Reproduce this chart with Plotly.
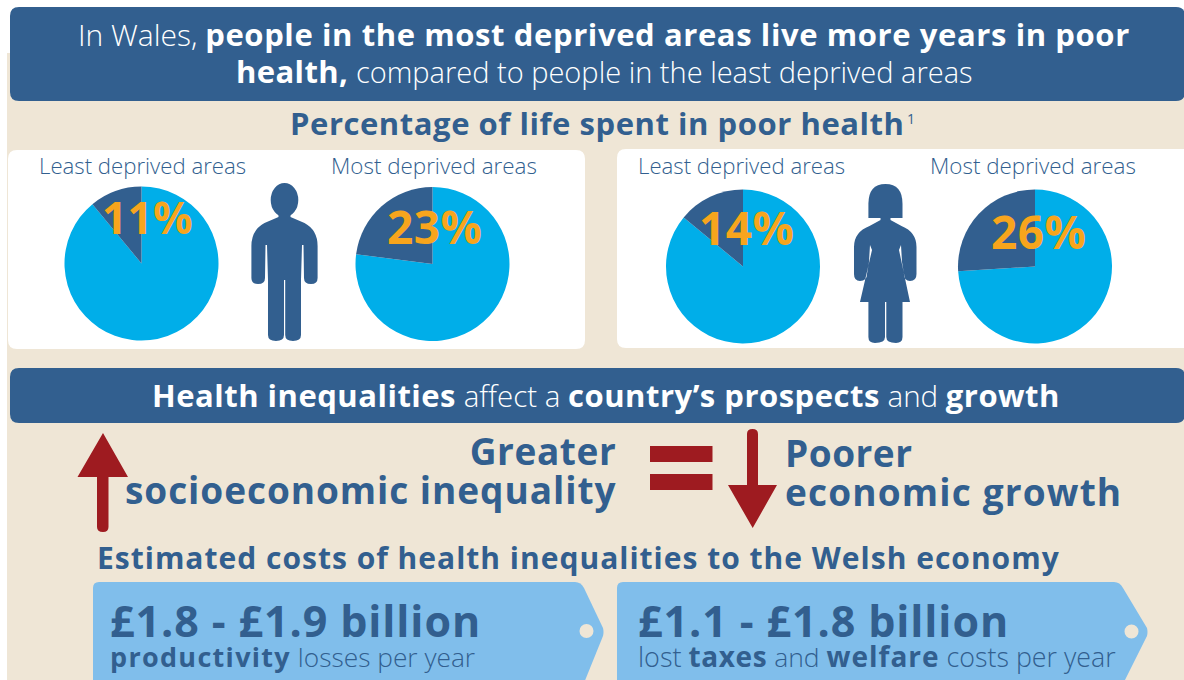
import plotly.graph_objects as go

# ---- data ----
pie_groups = ["Men, least deprived", "Men, most deprived", "Women, least deprived", "Women, most deprived"]
poor_health_pct = [11, 23, 14, 26]
area_labels = ["Least deprived areas", "Most deprived areas", "Least deprived areas", "Most deprived areas"]
cost_ranges = ["£1.8 - £1.9 billion", "£1.1 - £1.8 billion"]

W, H = 1184, 680
NAVY, BEIGE, SKY, ORANGE, RED, TAG = "#325F8F", "#EFE6D6", "#00AEE9", "#F7A51D", "#9E1B20", "#80BEEB"
FONT = "Open Sans"

fx = lambda x: x / W
fy = lambda y: 1 - y / H


def P(x, y):
    return f"{fx(x):.5f},{fy(y):.5f}"


def path(pts):
    """pts: list of ('M'|'L', x, y) or ('Q', cx, cy, x, y)"""
    out = []
    for p in pts:
        if p[0] == "Q":
            out.append(f"Q{P(p[1], p[2])} {P(p[3], p[4])}")
        else:
            out.append(f"{p[0]}{P(p[1], p[2])}")
    return " ".join(out) + " Z"


def shape(d, color, layer="below"):
    return dict(type="path", xref="paper", yref="paper", path=d, fillcolor=color, line_width=0, layer=layer)


def rrect(x0, y0, x1, y1, r):
    return path([("M", x0 + r, y0), ("L", x1 - r, y0), ("Q", x1, y0, x1, y0 + r), ("L", x1, y1 - r),
                 ("Q", x1, y1, x1 - r, y1), ("L", x0 + r, y1), ("Q", x0, y1, x0, y1 - r), ("L", x0, y0 + r),
                 ("Q", x0, y0, x0 + r, y0)])


def circle(cx, cy, rx, ry, color):
    return dict(type="circle", xref="paper", yref="paper", x0=fx(cx - rx), x1=fx(cx + rx),
                y0=fy(cy + ry), y1=fy(cy - ry), fillcolor=color, line_width=0, layer="below")


shapes = [
    shape(path([("M", 7, 53), ("L", W + 2, 53), ("L", W + 2, H + 2), ("L", 7, H + 2)]), BEIGE),
    shape(rrect(10, 7, W + 1, 101, 9), NAVY),
    shape(rrect(8, 150, 585, 349, 9), "#FFFFFF"),
    shape(rrect(617, 149, W + 12, 348, 9), "#FFFFFF"),
    shape(rrect(10, 368, W + 1, 423, 9), NAVY),
]


def tag(x0, xs, xt):
    return path([("M", x0 + 6, 582), ("L", xs - 6, 582), ("Q", xs, 582, xs + 3, 588), ("L", xt - 1, 628),
                 ("Q", xt, 632, xt - 1, 636), ("L", xs + 1, H + 8), ("L", x0, H + 8), ("L", x0, 588),
                 ("Q", x0, 582, x0 + 6, 582)])


shapes += [shape(tag(93, 581, 604), TAG), circle(586.5, 631, 7, 7, BEIGE),
           shape(tag(617, 1120, 1148), TAG), circle(1131.5, 631.5, 7, 7, BEIGE)]

# arrows and equals sign
shapes += [
    shape(path([("M", 103, 433), ("L", 128, 477), ("L", 108.5, 477), ("L", 108.5, 527), ("Q", 108.5, 532, 103, 532),
                ("Q", 97, 532, 97, 527), ("L", 97, 477), ("L", 77.5, 477)]), RED),
    shape(path([("M", 752.7, 528), ("L", 777, 485), ("L", 758, 485), ("L", 758, 434), ("Q", 758, 429, 752.5, 429),
                ("Q", 747, 429, 747, 434), ("L", 747, 485), ("L", 728, 485)]), RED),
    shape(path([("M", 650, 446), ("L", 712.5, 446), ("L", 712.5, 462), ("L", 650, 462)]), RED),
    shape(path([("M", 650, 474), ("L", 712.5, 474), ("L", 712.5, 490), ("L", 650, 490)]), RED),
]

# man pictogram
c = 284.5
shapes += [
    circle(c, 200, 13.8, 17, NAVY),
    shape(path([("M", c - 6, 212), ("L", c + 6, 212), ("L", c + 6, 217), ("L", c + 20, 223), ("Q", 317.6, 230, 317.6, 246),
                ("L", 317.6, 278), ("Q", 317.6, 284, 311, 284), ("Q", 304, 284, 304, 278), ("L", 303.5, 245),
                ("L", 302, 245), ("L", 301, 280), ("L", 301, 335), ("Q", 301, 341, 293, 341), ("Q", 285.2, 341, 285.2, 335),
                ("L", 285.2, 280), ("L", 284, 280), ("L", 284, 335), ("Q", 284, 341, 276, 341), ("Q", 268, 341, 268, 335),
                ("L", 268, 280), ("L", 267, 245), ("L", 265.5, 245), ("L", 265, 278), ("Q", 265, 284, 258, 284),
                ("Q", 251.4, 284, 251.4, 278), ("L", 251.4, 246), ("Q", 251.4, 230, c - 20, 223), ("L", c - 6, 217)]), NAVY),
]

# woman pictogram
c = 885.5
shapes += [
    shape(path([("M", 868.4, 218), ("L", 868.4, 204), ("Q", 868.4, 184, c, 184), ("Q", 902.5, 184, 902.5, 204),
                ("L", 902.5, 218)]), NAVY),
    shape(path([("M", c - 5, 216), ("L", c + 5, 216), ("L", c + 5, 220), ("L", c + 16, 226), ("Q", 916.5, 232, 916.5, 247),
                ("L", 916.5, 274), ("Q", 916.5, 281, 910, 281), ("Q", 904, 281, 904, 274), ("L", 902, 262), ("L", 901, 245),
                ("L", 899, 250), ("L", 910, 302), ("L", 902.5, 302), ("L", 902.5, 337), ("Q", 902.5, 343, 896, 343),
                ("Q", 886.3, 343, 886.3, 337), ("L", 886.3, 302), ("L", 885, 302), ("L", 885, 337), ("Q", 885, 343, 875, 343),
                ("Q", 868.4, 343, 868.4, 337), ("L", 868.4, 302), ("L", 860, 302), ("L", 872, 250), ("L", 870, 245),
                ("L", 869, 262), ("L", 867, 274), ("Q", 867, 281, 860, 281), ("Q", 854, 281, 854, 274), ("L", 854, 247),
                ("Q", 854, 232, c - 16, 226), ("L", c - 5, 220)]), NAVY),
]

fig = go.Figure()
pie_pos = [(141.5, 263.5, 77), (432.5, 264, 77), (743, 266.5, 77), (1035, 266.5, 77)]
for name, v, (cx, cy, r) in zip(pie_groups, poor_health_pct, pie_pos):
    fig.add_trace(go.Pie(
        values=[100 - v, v], labels=["Other", "Poor health"], name=name, sort=False,
        direction="counterclockwise", rotation=0, textinfo="none", hoverinfo="label+percent",
        marker=dict(colors=[SKY, NAVY], line=dict(width=0)), showlegend=False,
        domain=dict(x=[fx(cx - r), fx(cx + r)], y=[fy(cy + r), fy(cy - r)]),
    ))


def L(s, size):
    return f'<span style="font-weight:300;font-size:{size}px">{s}</span>'


def B(s, size, ls=0.0):
    return f'<span style="font-weight:700;font-size:{size}px;letter-spacing:{ls}px">{s}</span>'


annotations = []


def text(x, y, s, size, color=NAVY, anchor="center"):
    annotations.append(dict(x=fx(x), y=fy(y), xref="paper", yref="paper", text=s, showarrow=False,
                            xanchor=anchor, yanchor="middle", align=anchor,
                            font=dict(family=FONT, size=size, color=color)))


W_ = "#FFFFFF"
text(603.5, 34, L("In Wales, ", 30) + B("people in the most deprived areas live more years in poor", 31, 0.6), 31, W_)
text(604, 71, B("health,", 31, 0.4) + L(" compared to people in the least deprived areas", 29), 31, W_)
text(597, 123, B("Percentage of life spent in poor health", 31, 0.55), 31)
text(905, 118, f'<span style="font-weight:400">1</span>', 14, anchor="left")
for s, x, z in zip(area_labels, [142.5, 434, 741, 1033], [22.2, 22.4, 22.2, 22.4]):
    text(x, 165, L(s, z), z)
for v, (x, y), z in zip(poor_health_pct, [(147.5, 217), (434, 226), (746.5, 227), (1038, 231)], [44, 46, 46, 46]):
    text(x, y, B(f"{v}%", z, 0.4), z, ORANGE)
text(606, 395, B("Health inequalities", 31, 0.5) + L(" affect a ", 29.5) + B("country’s prospects", 31, 0.5)
     + L(" and ", 29.5) + B("growth", 31, 0.5), 31, W_)
# two-line statements either side of the equals sign
text(618, 469.5, B("Greater", 37, 0.6) + "<br>" + B("socioeconomic inequality", 37, 0.93), 30, anchor="right")
text(783, 471.5, B("Poorer", 37, 0.5) + "<br>" + B("economic growth", 37, 1.16), 30, anchor="left")
text(578, 557, B("Estimated costs of health inequalities to the Welsh economy", 30, 1.0), 30)
# each price tag holds one two-line text
text(108, 633, B(cost_ranges[0], 43, 0.9) + "<br>" + B("productivity", 27, 1.3) + L(" losses per year", 26.3), 23, anchor="left")
text(636, 633, B(cost_ranges[1], 43, 0.9) + "<br>" + L("lost ", 27) + B("taxes", 28, 0.6) + L(" and ", 26.5)
     + B("welfare", 28, 1.0) + L(" costs per year", 26.8), 23, anchor="left")

fig.update_layout(width=W, height=H, margin=dict(l=0, r=0, t=0, b=0), paper_bgcolor="#FFFFFF",
                  shapes=shapes, annotations=annotations, showlegend=False, autosize=False)
fig.write_html("out.html", config=dict(displayModeBar=False), post_script="document.body.style.margin='0';")
